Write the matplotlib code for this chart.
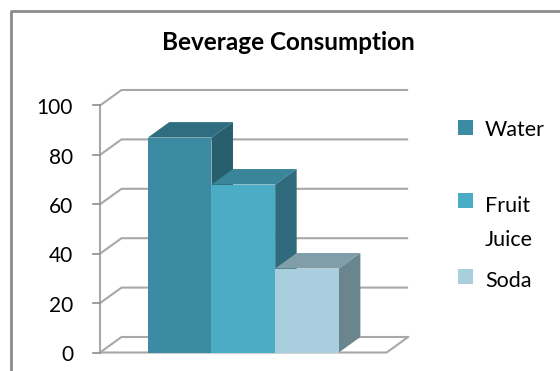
import matplotlib.pyplot as plt
from matplotlib.patches import Polygon, Rectangle

plt.rcParams['font.family'] = ['Lato', 'DejaVu Sans']

categories = ['Water', 'Fruit\nJuice', 'Soda']
values = [87, 68, 34]
ticks = [0, 20, 40, 60, 80, 100]

front = ['#3b8ca3', '#4bacc6', '#a9cfdf']
top = ['#2f6e80', '#3a8599', '#7f9ea9']
side = ['#285f6e', '#2f6b7c', '#6b858e']

W, H = 560, 371
fig = plt.figure(figsize=(W / 100, H / 100), dpi=100)

# plot axes: x in bar widths, y in value units, oblique depth offset
x0px, xunit = 100, 63.7
y0px, yunit = 352.5, 2.47
ax = fig.add_axes([0, 0, 1, 1])
ax.set_xlim(-x0px / xunit, (W - x0px) / xunit)
ax.set_ylim((y0px - H) / yunit, y0px / yunit)
ax.axis('off')

dx, dy = 21.5 / xunit, 15.5 / yunit
floor_end = 4.5
grid_c = '#a8a8a8'

# walls and gridlines
for t in ticks:
    ax.plot([0, dx, floor_end + dx], [t, t + dy, t + dy], color=grid_c, lw=1.5,
            solid_capstyle='butt', zorder=1)
ax.plot([0, 0], [0, 100], color=grid_c, lw=1.5, zorder=1)
ax.plot([0, floor_end, floor_end + dx], [0, 0, dy], color=grid_c, lw=1.5, zorder=1)
for t in ticks:
    ax.plot([-7 / xunit, 0], [t, t], color='#8c8c8c', lw=1.2, zorder=1)
    ax.text(-27 / xunit, t - 1.1, str(t), ha='right', va='center', fontsize=15,
            color='#000000')

# 3D columns
for i, v in enumerate(values):
    a, b = 0.75 + i, 1.75 + i
    ax.add_patch(Polygon([(a, v), (b, v), (b + dx, v + dy), (a + dx, v + dy)],
                         closed=True, facecolor=top[i], edgecolor='none', zorder=2 + i))
    ax.add_patch(Polygon([(b, 0), (b + dx, dy), (b + dx, v + dy), (b, v)],
                         closed=True, facecolor=side[i], edgecolor='none', zorder=2 + i))
    ax.add_patch(Rectangle((a, 0), 1, v, facecolor=front[i], edgecolor='none',
                           zorder=2 + i))

# overlay in pixel coordinates for title, legend and frame
ov = fig.add_axes([0, 0, 1, 1])
ov.set_xlim(0, W)
ov.set_ylim(H, 0)
ov.axis('off')
ov.patch.set_alpha(0)

ov.plot([11, 11, W], [H, 11, 11], color='#8c8c8c', lw=2, solid_joinstyle='round')
ov.text(288, 49.5, 'Beverage Consumption', ha='center', va='baseline',
        fontsize=17.5, fontweight='bold')

legend_sq = [120, 193, 269]
legend_txt = [136, 212, 287]
for i, name in enumerate(categories):
    ov.add_patch(Rectangle((458, legend_sq[i]), 14.5, 14.5, facecolor=front[i],
                           edgecolor='none'))
    ov.text(485, legend_txt[i], name.split('\n')[0], ha='left', va='baseline',
            fontsize=15.5)
    if '\n' in name:
        ov.text(485, legend_txt[i] + 33.5, name.split('\n')[1], ha='left',
                va='baseline', fontsize=15.5)

fig.savefig('out.png', dpi=100)
